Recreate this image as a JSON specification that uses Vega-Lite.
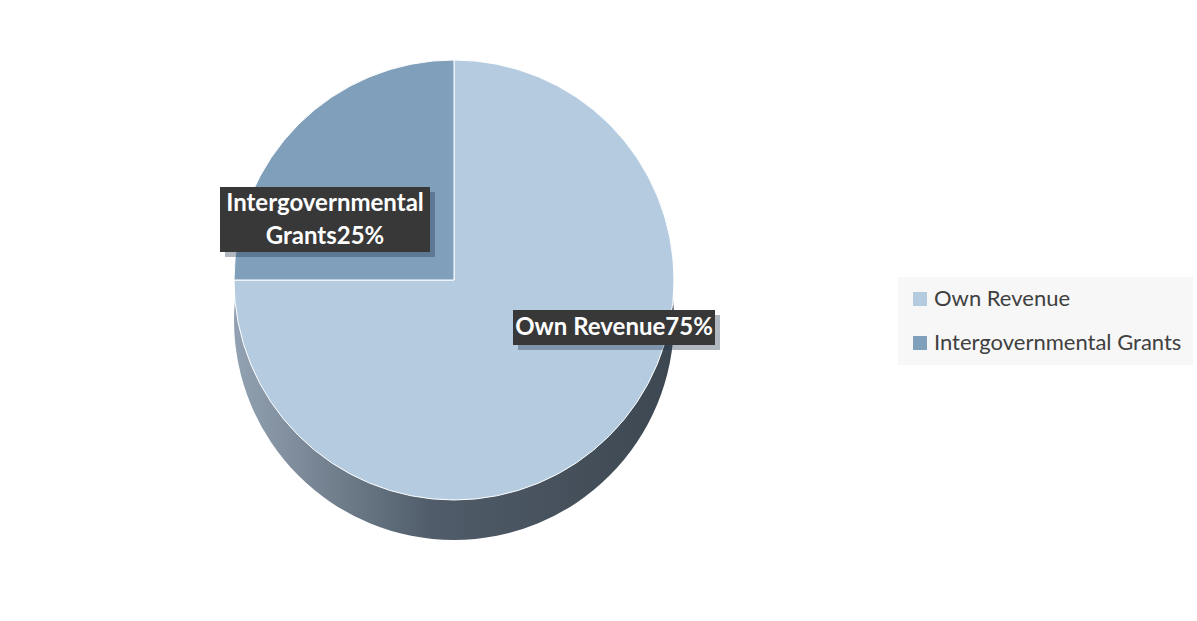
{
  "$schema": "https://vega.github.io/schema/vega-lite/v6.json",
  "width": 890,
  "height": 536,
  "padding": {"left": 9, "top": 12, "right": 0, "bottom": 0},
  "background": "white",
  "config": {"view": {"stroke": null}},
  "data": {"values": [
    {"source": "Own Revenue", "share": 75, "rank": 1},
    {"source": "Intergovernmental Grants", "share": 25, "rank": 2}
  ]},
  "layer": [
    {
      "mark": {"type": "arc", "outerRadius": 220, "yOffset": 40, "strokeWidth": 0,
        "color": {"gradient": "linear", "x1": 0, "x2": 1, "y1": 0, "y2": 0,
          "stops": [{"offset": 0, "color": "#93a2b2"}, {"offset": 0.45, "color": "#505c69"}, {"offset": 1, "color": "#3d4751"}]}},
      "encoding": {
        "theta": {"field": "share", "type": "quantitative", "stack": true},
        "order": {"field": "rank", "type": "quantitative"}
      }
    },
    {
      "mark": {"type": "arc", "outerRadius": 220, "stroke": "white", "strokeWidth": 1},
      "encoding": {
        "theta": {"field": "share", "type": "quantitative", "stack": true},
        "order": {"field": "rank", "type": "quantitative"},
        "color": {"field": "source", "type": "nominal",
          "scale": {"domain": ["Own Revenue", "Intergovernmental Grants"], "range": ["#b4cbe0", "#7f9fba"]},
          "legend": {"title": null, "orient": "none", "legendX": 889, "legendY": 265,
            "fillColor": "#f7f7f7", "padding": 11, "symbolType": "square", "symbolSize": 196,
            "symbolStrokeWidth": 0, "labelFont": "Lato", "labelFontSize": 22, "labelColor": "#404040",
            "labelLimit": 400, "labelOffset": 3, "rowPadding": 22}}
      }
    },
    {
      "transform": [{"filter": "datum.rank == 1"}],
      "mark": {"type": "point", "shape": "M-1,-0.1733H1V0.1733H-1Z", "size": 40804, "filled": true,
        "color": "#1e3248", "opacity": 0.35, "strokeWidth": 0, "xOffset": 165, "yOffset": 52.5},
      "encoding": {}
    },
    {
      "transform": [{"filter": "datum.rank == 1"}],
      "mark": {"type": "point", "shape": "M-1,-0.1733H1V0.1733H-1Z", "size": 40804, "filled": true,
        "color": "#383838", "opacity": 1, "strokeWidth": 0, "xOffset": 160, "yOffset": 47.5},
      "encoding": {}
    },
    {
      "transform": [{"filter": "datum.rank == 2"}],
      "mark": {"type": "point", "shape": "M-1,-0.3095H1V0.3095H-1Z", "size": 44100, "filled": true,
        "color": "#1e3248", "opacity": 0.35, "strokeWidth": 0, "xOffset": -124, "yOffset": -55.5},
      "encoding": {}
    },
    {
      "transform": [{"filter": "datum.rank == 2"}],
      "mark": {"type": "point", "shape": "M-1,-0.3095H1V0.3095H-1Z", "size": 44100, "filled": true,
        "color": "#383838", "opacity": 1, "strokeWidth": 0, "xOffset": -129, "yOffset": -60.5},
      "encoding": {}
    },
    {
      "transform": [{"filter": "datum.rank == 1"}, {"calculate": "datum.source + datum.share + '%'", "as": "label"}],
      "mark": {"type": "text", "font": "Lato", "fontWeight": "bold", "fontSize": 24, "color": "white",
        "align": "center", "baseline": "middle", "dx": 160, "dy": 48},
      "encoding": {"text": {"field": "label", "type": "nominal"}}
    },
    {
      "transform": [{"filter": "datum.rank == 2"}, {"calculate": "datum.source + datum.share + '%'", "as": "label"}],
      "mark": {"type": "text", "font": "Lato", "fontWeight": "bold", "fontSize": 24, "color": "white",
        "align": "center", "baseline": "middle", "dx": -129, "dy": -76, "lineBreak": " ", "lineHeight": 33},
      "encoding": {"text": {"field": "label", "type": "nominal"}}
    }
  ]
}
